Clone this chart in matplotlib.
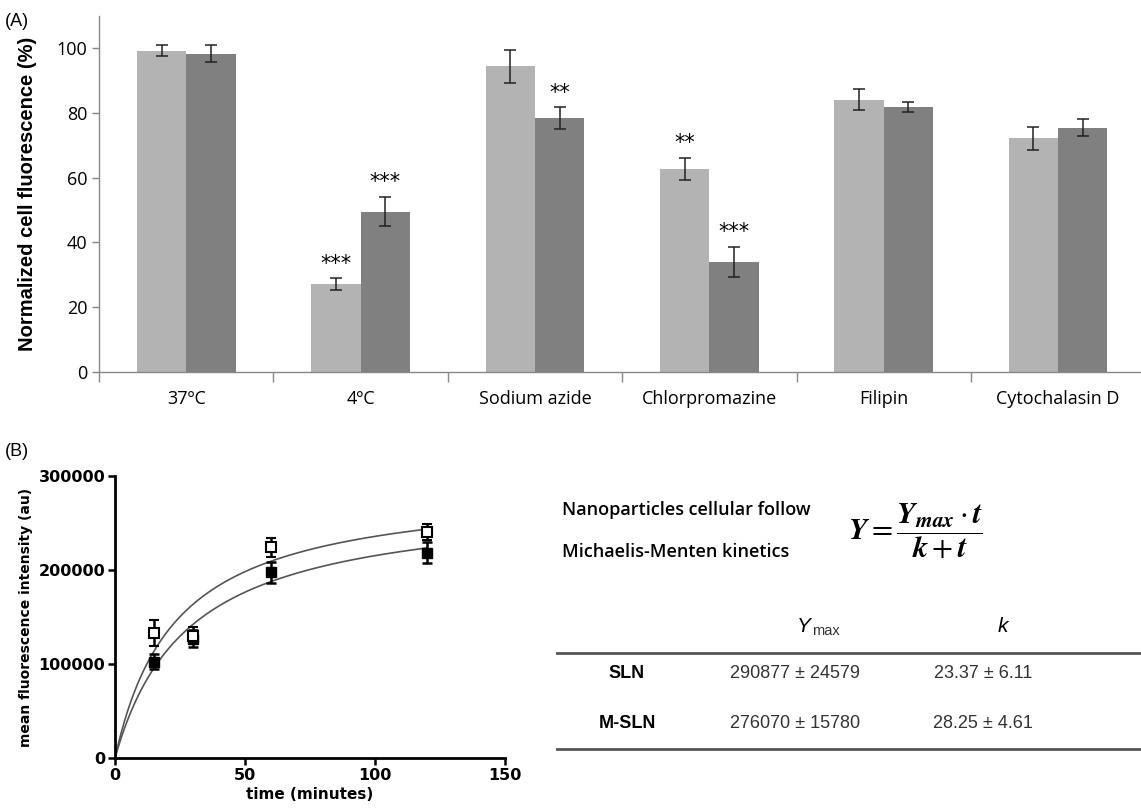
import numpy as np
import matplotlib.pyplot as plt

# panel A data
categories = ['37ºC', '4ºC', 'Sodium azide', 'Chlorpromazine', 'Filipin', 'Cytochalasin D']
light_vals = [99.2, 27.1, 94.3, 62.7, 84.1, 72.1]
light_err = [1.8, 1.8, 5.0, 3.5, 3.2, 3.6]
dark_vals = [98.3, 49.5, 78.3, 34.0, 81.8, 75.4]
dark_err = [2.5, 4.5, 3.4, 4.6, 1.5, 2.7]
light_stars = ['', '***', '', '**', '', '']
dark_stars = ['', '***', '**', '***', '', '']

# panel B data
times = [15, 30, 60, 120]
sln_mean = [133000, 130000, 224000, 240000]
sln_err = [14000, 9000, 10000, 8500]
msln_mean = [102500, 127000, 197500, 218500]
msln_err = [8000, 9000, 11500, 11000]

# fit parameters (table)
row_names = ['SLN', 'M-SLN']
ymax_fit = [290877, 276070]
ymax_sd = [24579, 15780]
k_fit = [23.37, 28.25]
k_sd = [6.11, 4.61]

plt.rcParams['mathtext.fontset'] = 'stix'
fig = plt.figure(figsize=(11.41, 8.08), dpi=100)

# ---------------- (A) ----------------
axA = fig.add_axes([0.0868, 0.5396, 0.917, 0.4411])
x = np.arange(len(categories))
w = 0.283
light_c = '#b3b3b3'
dark_c = '#808080'
axA.bar(x - w / 2, light_vals, w, color=light_c, edgecolor='none', zorder=2)
axA.bar(x + w / 2, dark_vals, w, color=dark_c, edgecolor='none', zorder=2)
ekw = dict(fmt='none', ecolor='#222222', elinewidth=1.1, capsize=4, capthick=1.1, zorder=3)
axA.errorbar(x - w / 2, light_vals, yerr=light_err, **ekw)
axA.errorbar(x + w / 2, dark_vals, yerr=dark_err, **ekw)
for i in range(len(categories)):
    if light_stars[i]:
        axA.text(x[i] - w / 2, light_vals[i] + light_err[i] + 4.5, light_stars[i],
                 ha='center', va='center', fontsize=15, family='DejaVu Sans')
    if dark_stars[i]:
        axA.text(x[i] + w / 2, dark_vals[i] + dark_err[i] + 4.5, dark_stars[i],
                 ha='center', va='center', fontsize=15, family='DejaVu Sans')

axA.set_xlim(-0.5, len(categories) - 0.5)
axA.set_ylim(0, 110)
axA.set_yticks([0, 20, 40, 60, 80, 100])
axA.tick_params(axis='y', labelsize=13, length=5, color='#888888', width=1)
for lab in axA.get_yticklabels():
    lab.set_family('Open Sans')
axA.set_xticks(np.arange(-0.5, len(categories)), labels=[])
axA.tick_params(axis='x', which='major', length=7, color='#888888', width=1)
axA.set_xticks(x, labels=categories, minor=True)
axA.tick_params(axis='x', which='minor', length=0, labelsize=13, pad=13)
for lab in axA.get_xticklabels(minor=True):
    lab.set_family('Open Sans')
for s in ['top', 'right']:
    axA.spines[s].set_visible(False)
for s in ['left', 'bottom']:
    axA.spines[s].set_color('#888888')
    axA.spines[s].set_linewidth(1)
axA.set_ylabel('Normalized cell fluorescence (%)', fontsize=14.5, fontweight='bold',
               family='Liberation Sans', labelpad=14)
fig.text(0.004, 0.973, '(A)', fontsize=13, family='Liberation Sans', va='center')

# ---------------- (B) ----------------
axB = fig.add_axes([0.1008, 0.0619, 0.3418, 0.349])
tt = np.linspace(0, 120, 300)
for ym, kk in zip(ymax_fit, k_fit):
    axB.plot(tt, ym * tt / (kk + tt), color='#555555', lw=1.2, zorder=2)
axB.errorbar(times, msln_mean, yerr=msln_err, fmt='s', color='black', ms=6.5,
             mfc='black', mec='black', elinewidth=1.8, capsize=3.5, capthick=1.8, zorder=3)
axB.errorbar(times, sln_mean, yerr=sln_err, fmt='s', color='black', ms=6.5,
             mfc='white', mec='black', mew=1.5, elinewidth=1.8, capsize=3.5, capthick=1.8, zorder=4)
axB.set_xlim(0, 150)
axB.set_ylim(0, 300000)
axB.set_xticks([0, 50, 100, 150])
axB.set_yticks([0, 100000, 200000, 300000])
axB.tick_params(length=5, width=1.8, labelsize=11.5, pad=2)
for lab in axB.get_xticklabels() + axB.get_yticklabels():
    lab.set_fontweight('bold')
for s in ['top', 'right']:
    axB.spines[s].set_visible(False)
for s in ['left', 'bottom']:
    axB.spines[s].set_linewidth(2)
axB.set_xlabel('time (minutes)', fontsize=11, fontweight='bold', labelpad=3)
axB.set_ylabel('mean fluorescence intensity (au)', fontsize=10, fontweight='bold', labelpad=4)
fig.text(0.004, 0.4406, '(B)', fontsize=13, family='Liberation Sans', va='center')

# text and formula
fig.text(0.4925, 1 - 510 / 808, 'Nanoparticles cellular follow', fontsize=13,
         family='Open Sans', fontweight='semibold', va='center')
fig.text(0.4925, 1 - 552 / 808, 'Michaelis-Menten kinetics', fontsize=13,
         family='Open Sans', fontweight='semibold', va='center')
fig.text(915 / 1141, 1 - 531 / 808, r'$\mathbfit{Y} = \dfrac{\mathbfit{Y}_{\mathbfit{max}}\cdot \mathbfit{t}}{\mathbfit{k} + \mathbfit{t}}$',
         fontsize=22, ha='center', va='center')

# table
fig.add_artist(plt.Line2D([557 / 1141, 1.0], [1 - 653 / 808] * 2, color='#555555', lw=2))
fig.add_artist(plt.Line2D([557 / 1141, 1.0], [1 - 749 / 808] * 2, color='#555555', lw=2))
fig.text(811 / 1141, 1 - 626 / 808, 'Y', fontsize=15, style='italic', ha='right', va='center',
         family='Liberation Sans')
fig.text(812 / 1141, 1 - 631 / 808, 'max', fontsize=10.5, ha='left', va='center',
         family='Liberation Sans', color='#333333')
fig.text(1003 / 1141, 1 - 627 / 808, 'k', fontsize=15, style='italic', ha='center', va='center',
         family='Liberation Sans')
row_y = [673, 723]
for i in range(len(row_names)):
    yy = 1 - row_y[i] / 808
    fig.text(627 / 1141, yy, row_names[i], fontsize=13, fontweight='bold',
             family='Liberation Sans', ha='center', va='center')
    fig.text(795 / 1141, yy, f'{ymax_fit[i]} ± {ymax_sd[i]}', fontsize=13,
             family='Liberation Sans', ha='center', va='center', color='#333333')
    fig.text(983 / 1141, yy, f'{k_fit[i]:.2f} ± {k_sd[i]:.2f}', fontsize=13,
             family='Liberation Sans', ha='center', va='center', color='#333333')

fig.savefig('out.png', dpi=100)
